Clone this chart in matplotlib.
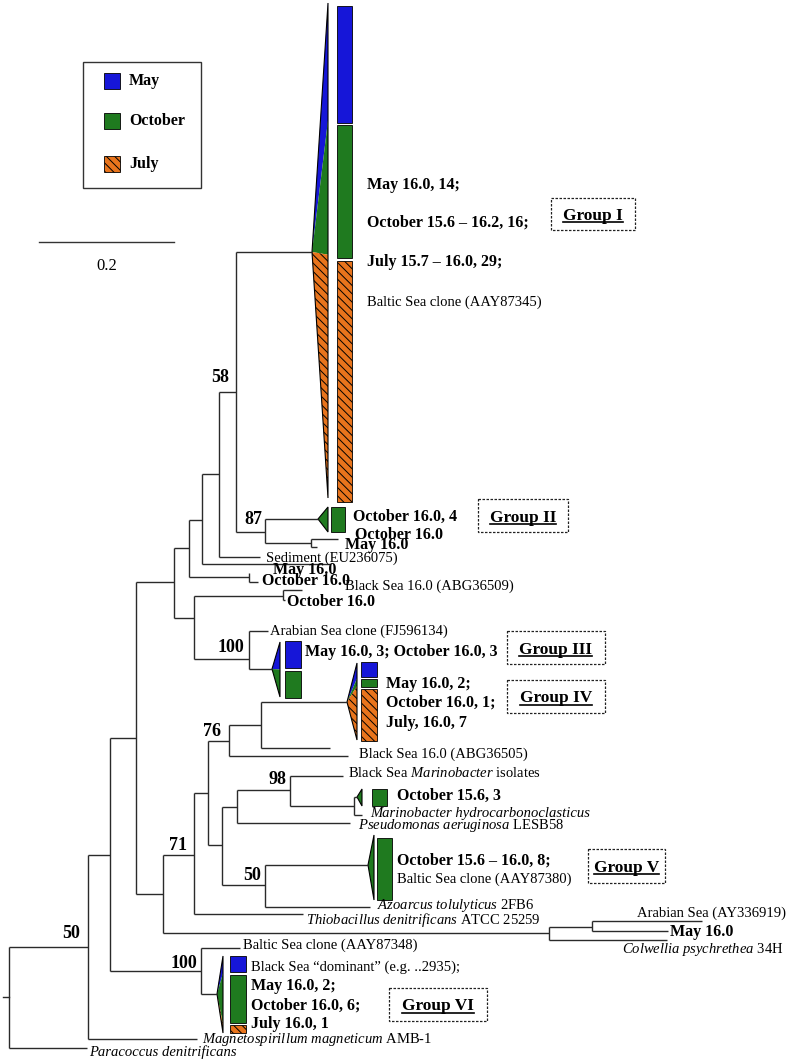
import matplotlib
matplotlib.use('Agg')
import matplotlib.pyplot as plt
from matplotlib.patches import Polygon, Rectangle

plt.rcParams['font.family'] = ['Liberation Serif', 'DejaVu Serif']
plt.rcParams['mathtext.fontset'] = 'custom'
plt.rcParams['mathtext.rm'] = 'Liberation Serif'
plt.rcParams['mathtext.it'] = 'Liberation Serif:italic'
plt.rcParams['mathtext.bf'] = 'Liberation Serif:bold'
plt.rcParams['hatch.linewidth'] = 0.7

# ---------------- data ----------------
months = ['May', 'October', 'July']
month_colors = ['#1616d8', '#1f7a1f', '#e8741c']
month_hatches = [None, None, '\\\\\\\\']

# tree: name, parent, x (branch position), y (leaf order position)
node_names = ['root', 'A', 'Paracoccus', 'B', 'Magneto', 'C', 'G6n', 'D1', 'D',
              'E1', 'E2', 'F1', 'NMO', 'H1', 'Sed2', 'N58', 'Sed', 'G1', 'N87',
              'G2', 'N87b', 'Oct87', 'May87', 'MO_may', 'MO_oct', 'NBS', 'BS509',
              'Oct602', 'N100', 'FJ', 'G3', 'N71', 'NAS', 'NAS2', 'AY', 'MayAS',
              'Colw', 'Na', 'Thio', 'N76', 'E', 'Ng4', 'G4', 'leaf748', 'BS505',
              'F', 'N50', 'N98', 'Pseudo', 'MarIso', 'Nmh', 'Goct', 'Mhydro',
              'G5', 'Azo', 'Balt348', 'G6']
node_parent = [None, 'root', 'root', 'A', 'A', 'B', 'B', 'C', 'C',
               'D1', 'D1', 'E1', 'E1', 'F1', 'F1', 'H1', 'H1', 'N58', 'N58',
               'N87', 'N87', 'N87b', 'N87b', 'NMO', 'NMO', 'E2', 'NBS',
               'NBS', 'E2', 'N100', 'N100', 'D', 'D', 'NAS', 'NAS2', 'NAS2',
               'NAS', 'N71', 'N71', 'Na', 'Na', 'N76', 'Ng4', 'Ng4', 'N76',
               'E', 'E', 'F', 'F', 'N98', 'N98', 'Nmh', 'Nmh',
               'N50', 'N50', 'G6n', 'G6n']
node_x = [9, 88, 87, 110, 197, 136, 201, 174, 163,
          189, 194, 202, 249, 219, 330, 236, 260, 312, 265,
          318, 311, 338, 317, 249, 258, 283, 302,
          285, 249, 268, 272, 194, 549, 592, 702, 668,
          667, 208, 303, 229, 222, 261, 347, 330, 348,
          237, 265, 290, 350, 343, 354, 357, 362,
          368, 370, 240, 217]
node_y = [997, 947, 1048, 855, 1039, 738, 971, 582, 894,
          548, 618, 520, 577, 474, 564, 392, 557, 252, 532,
          519, 543, 539, 547, 573, 582, 596, 590,
          600, 659, 631, 669, 855, 933, 927, 921, 931,
          940, 793, 914, 741, 845, 725, 702, 748, 756,
          807, 885, 790, 823, 776, 806, 797, 815,
          865, 907, 948, 994]

# collapsed clades: tip node, counts per month (May, October, July)
clade_tip = ['G1', 'G2', 'G3', 'G4', 'Goct', 'G5', 'G6']
clade_names = ['Group I', 'Group II', 'Group III', 'Group IV', '', 'Group V', 'Group VI']
clade_may = [14, 0, 3, 2, 0, 0, 2]
clade_october = [16, 4, 3, 1, 3, 8, 6]
clade_july = [29, 0, 0, 7, 0, 0, 1]

bootstrap_values = ['50', '100', '71', '50', '98', '76', '100', '58', '87']
bootstrap_nodes = ['A', 'G6n', 'N71', 'N50', 'N98', 'N76', 'N100', 'N58', 'N87']

scale_value = 0.2

# ---------------- layout ----------------
W, H = 789, 1062
fig = plt.figure(figsize=(W / 100, H / 100), dpi=100)
ax = fig.add_axes([0, 0, 1, 1])
ax.set_xlim(0, W)
ax.set_ylim(H, 0)
ax.axis('off')

LC = '#2a2a2a'
LW = 1.0
pos = {n: (x, y) for n, x, y in zip(node_names, node_x, node_y)}
children = {}
for n, p in zip(node_names, node_parent):
    if p is not None:
        children.setdefault(p, []).append(n)

for n, p in zip(node_names, node_parent):
    if p is None:
        continue
    ax.plot([pos[p][0], pos[n][0]], [pos[n][1], pos[n][1]], color=LC, lw=LW,
            solid_capstyle='butt')
for p, ch in children.items():
    ys = [pos[c][1] for c in ch] + [pos[p][1]]
    ax.plot([pos[p][0], pos[p][0]], [min(ys), max(ys)], color=LC, lw=LW,
            solid_capstyle='butt')
# root stub
ax.plot([3, pos['root'][0]], [pos['root'][1]] * 2, color=LC, lw=LW)

# clade wedge / bar geometry (layout)
wedge_right = [328, 328, 280, 357, 362, 374, 223]
wedge_span = [(3, 498), (507, 532), (642, 697), (663, 740), (789, 806), (835, 900), (956, 1033)]
bar_x = [(337, 352), (331, 345), (285, 301), (361, 377), (372, 387), (377, 392), (230, 246)]
bar_span = [(6, 502), (507, 532), (641, 698), (662, 741), (789, 806), (838, 900), (956, 1033)]
GAP = 2.5

for i, tip in enumerate(clade_tip):
    counts = [clade_may[i], clade_october[i], clade_july[i]]
    total = sum(counts)
    tx, ty = pos[tip]
    xr = wedge_right[i]
    y0, y1 = wedge_span[i]
    b0, b1 = bar_span[i]
    cum = 0
    nz = [k for k in range(3) if counts[k] > 0]
    hbar = (b1 - b0) - GAP * (len(nz) - 1)
    by = b0
    for k in range(3):
        c = counts[k]
        if c == 0:
            continue
        ya = y0 + (y1 - y0) * cum / total
        yb = y0 + (y1 - y0) * (cum + c) / total
        ax.add_patch(Polygon([[tx, ty], [xr, ya], [xr, yb]], closed=True,
                             facecolor=month_colors[k], edgecolor='black',
                             hatch=month_hatches[k], lw=0.0))
        hh = hbar * c / total
        ax.add_patch(Rectangle((bar_x[i][0], by), bar_x[i][1] - bar_x[i][0], hh,
                               facecolor=month_colors[k], edgecolor='black',
                               hatch=month_hatches[k], lw=0.6))
        by += hh + GAP
        cum += c
    ax.add_patch(Polygon([[tx, ty], [xr, y0], [xr, y1]], closed=True,
                         facecolor='none', edgecolor='black', lw=0.8))

# bootstrap labels
boot_off = {'A': (-8, -14), 'G6n': (-4, -8), 'N71': (-7, -9), 'N50': (-4, -10),
            'N98': (-3, -10), 'N76': (-8, -9), 'N100': (-5, -11), 'N58': (-7, -14),
            'N87': (-3, -13)}
for v, n in zip(bootstrap_values, bootstrap_nodes):
    dx, dy = boot_off[n]
    ax.text(pos[n][0] + dx, pos[n][1] + dy, v, ha='right', va='center',
            fontsize=13, fontweight='bold')

# leaf labels: x, y, text, weight, style
labels = [
    (367, 185, 'May 16.0, 14;', 'bold', 'normal'),
    (367, 223, 'October 15.6 \u2013 16.2, 16;', 'bold', 'normal'),
    (367, 262, 'July 15.7 \u2013 16.0, 29;', 'bold', 'normal'),
    (367, 302, 'Baltic Sea clone (AAY87345)', 'normal', 'normal'),
    (353, 517, 'October 16.0, 4', 'bold', 'normal'),
    (355, 535, 'October 16.0', 'bold', 'normal'),
    (345, 545, 'May 16.0', 'bold', 'normal'),
    (266, 558, 'Sediment (EU236075)', 'normal', 'normal'),
    (273, 570, 'May 16.0', 'bold', 'normal'),
    (262, 581, 'October 16.0', 'bold', 'normal'),
    (345, 586, 'Black Sea 16.0 (ABG36509)', 'normal', 'normal'),
    (287, 602, 'October 16.0', 'bold', 'normal'),
    (270, 631, 'Arabian Sea clone (FJ596134)', 'normal', 'normal'),
    (305, 652, 'May 16.0, 3; October 16.0, 3', 'bold', 'normal'),
    (386, 684, 'May 16.0, 2;', 'bold', 'normal'),
    (386, 703, 'October 16.0, 1;', 'bold', 'normal'),
    (386, 723, 'July, 16.0, 7', 'bold', 'normal'),
    (359, 754, 'Black Sea 16.0 (ABG36505)', 'normal', 'normal'),
    (348, 773, r'Black Sea $Marinobacter$ isolates', 'normal', 'normal'),
    (397, 796, 'October 15.6, 3', 'bold', 'normal'),
    (370, 813, 'Marinobacter hydrocarbonoclasticus', 'normal', 'italic'),
    (358, 825, r'$Pseudomonas\ aeruginosa$ LESB58', 'normal', 'normal'),
    (397, 861, 'October 15.6 \u2013 16.0, 8;', 'bold', 'normal'),
    (397, 879, 'Baltic Sea clone (AAY87380)', 'normal', 'normal'),
    (377, 906, r'$Azoarcus\ tolulyticus$ 2FB6', 'normal', 'normal'),
    (306, 920, r'$Thiobacillus\ denitrificans$ ATCC 25259', 'normal', 'normal'),
    (637, 913, 'Arabian Sea (AY336919)', 'normal', 'normal'),
    (670, 932, 'May 16.0', 'bold', 'normal'),
    (622, 950, r'$Colwellia\ psychrethea$ 34H', 'normal', 'normal'),
    (243, 945, 'Baltic Sea clone (AAY87348)', 'normal', 'normal'),
    (251, 967, 'Black Sea \u201cdominant\u201d (e.g. ..2935);', 'normal', 'normal'),
    (251, 986, 'May 16.0, 2;', 'bold', 'normal'),
    (251, 1006, 'October 16.0, 6;', 'bold', 'normal'),
    (251, 1024, 'July 16.0, 1', 'bold', 'normal'),
    (202, 1040, r'$Magnetospirillum\ magneticum$ AMB-1', 'normal', 'normal'),
    (89, 1052, 'Paracoccus denitrificans', 'normal', 'italic'),
]
for x, y, s, w, st in labels:
    ax.text(x, y, s, ha='left', va='center', fontsize=11.5 if w == 'bold' else 10.5,
            fontweight=w, fontstyle=st)

# group boxes
group_boxes = [(551, 198, 635, 230), (478, 499, 568, 532), (507, 631, 605, 664),
               (507, 680, 605, 713), None, (588, 849, 665, 883), (389, 988, 487, 1021)]
group_texts = []
for name, box in zip(clade_names, group_boxes):
    if box is None:
        continue
    x0, y0, x1, y1 = box
    ax.add_patch(Rectangle((x0, y0), x1 - x0, y1 - y0, facecolor='none',
                           edgecolor='#222222', lw=0.9, linestyle=(0, (2, 1.2))))
    t = ax.text((x0 + x1) / 2, (y0 + y1) / 2 + 6, name, ha='center', va='baseline',
                fontsize=12.5, fontweight='bold')
    group_texts.append(t)

# legend
ax.add_patch(Rectangle((83, 62), 118, 126, facecolor='white', edgecolor='#333333', lw=1.0))
for k, (m, yc) in enumerate(zip(months, [81, 121, 164])):
    ax.add_patch(Rectangle((104, yc - 8), 16, 16, facecolor=month_colors[k],
                           edgecolor='black', hatch=month_hatches[k], lw=0.6))
    ax.text(129, yc, m, ha='left', va='center', fontsize=11.5, fontweight='bold')

# scale bar
PX_PER_UNIT = 675
ax.plot([39, 39 + scale_value * PX_PER_UNIT], [242, 242], color='#333333', lw=1.0)
ax.text(39 + scale_value * PX_PER_UNIT / 2, 266, f'{scale_value}', ha='center',
        va='center', fontsize=12)

# underline group labels
fig.canvas.draw()
r = fig.canvas.get_renderer()
inv = ax.transData.inverted()
for t in group_texts:
    bb = t.get_window_extent(r)
    (xa, _), (xb, _) = inv.transform([[bb.x0, bb.y0], [bb.x1, bb.y1]])
    yb = t.get_position()[1] + 2
    ax.plot([xa, xb], [yb, yb], color='black', lw=1.2)

fig.savefig('out.png', dpi=100)
